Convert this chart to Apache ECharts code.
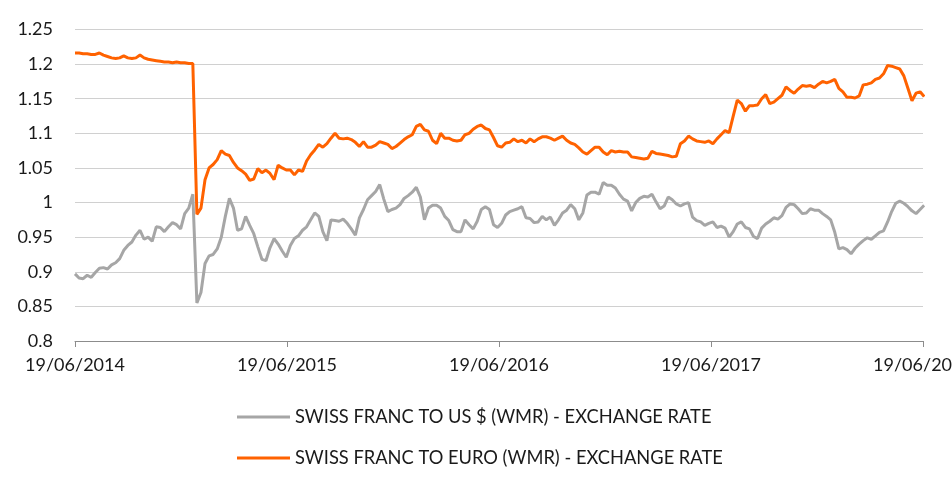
<!DOCTYPE html>
<html lang="en">
<head>
    <meta charset="utf-8"/>
    <title>Swiss franc exchange rates</title>
    <style>
        html, body { margin: 0; padding: 0; background: #fff; }
        #chartFx { width: 952px; height: 491px; }
    </style>
</head>
<body>
<div id="chartFx"></div>
<script type="text/javascript" src="https://cdn.jsdelivr.net/npm/echarts@6/dist/echarts.min.js"></script>
<script>
    // one sample per week, starting 19/06/2014 (day 0)
    var stepDays = 7;
    var xTickLabels = ['19/06/2014', '19/06/2015', '19/06/2016', '19/06/2017', '19/06/2018'];
    var seriesNames = ['SWISS FRANC TO US $ (WMR) - EXCHANGE RATE', 'SWISS FRANC TO EURO (WMR) - EXCHANGE RATE'];

    // CHF per US $ (grey)
    var usdRate = [
        0.897, 0.891, 0.890, 0.895, 0.892, 0.899, 0.905, 0.906, 0.904, 0.910,
        0.913, 0.919, 0.931, 0.938, 0.943, 0.953, 0.960, 0.947, 0.950, 0.944,
        0.965, 0.964, 0.958, 0.965, 0.971, 0.968, 0.962, 0.984, 0.992, 1.012,
        0.855, 0.870, 0.912, 0.923, 0.925, 0.933, 0.950, 0.980, 1.006, 0.992,
        0.960, 0.962, 0.980, 0.967, 0.955, 0.936, 0.918, 0.916, 0.935, 0.948,
        0.940, 0.930, 0.921, 0.938, 0.948, 0.952, 0.960, 0.965, 0.975, 0.985,
        0.980, 0.958, 0.945, 0.975, 0.974, 0.973, 0.976, 0.970, 0.962, 0.953,
        0.978, 0.990, 1.004, 1.010, 1.016, 1.026, 1.005, 0.987, 0.990, 0.992,
        0.997, 1.006, 1.010, 1.015, 1.022, 1.008, 0.975, 0.992, 0.996, 0.996,
        0.992, 0.980, 0.974, 0.961, 0.958, 0.958, 0.975, 0.968, 0.962, 0.973,
        0.990, 0.994, 0.990, 0.968, 0.964, 0.970, 0.982, 0.987, 0.989, 0.991,
        0.994, 0.978, 0.977, 0.971, 0.972, 0.980, 0.975, 0.979, 0.967, 0.975,
        0.985, 0.989, 0.997, 0.991, 0.975, 0.985, 1.011, 1.015, 1.015, 1.012,
        1.029, 1.025, 1.025, 1.021, 1.012, 1.005, 1.002, 0.988, 1.000, 1.006,
        1.009, 1.008, 1.012, 1.001, 0.991, 0.995, 1.008, 1.004, 0.998, 0.995,
        0.998, 1.000, 0.979, 0.974, 0.972, 0.967, 0.970, 0.972, 0.964, 0.966,
        0.963, 0.950, 0.958, 0.969, 0.972, 0.964, 0.962, 0.951, 0.948, 0.963,
        0.969, 0.973, 0.978, 0.976, 0.981, 0.993, 0.998, 0.997, 0.991, 0.984,
        0.985, 0.991, 0.989, 0.989, 0.984, 0.980, 0.975, 0.957, 0.933, 0.935,
        0.932, 0.926, 0.934, 0.940, 0.945, 0.949, 0.947, 0.952, 0.957, 0.959,
        0.972, 0.987, 0.999, 1.002, 0.999, 0.994, 0.988, 0.984, 0.990, 0.996
    ];

    // CHF per euro (orange)
    var eurRate = [
        1.216, 1.216, 1.215, 1.215, 1.214, 1.214, 1.216, 1.213, 1.211, 1.209,
        1.208, 1.209, 1.212, 1.209, 1.208, 1.209, 1.213, 1.209, 1.207, 1.206,
        1.205, 1.204, 1.203, 1.203, 1.202, 1.203, 1.202, 1.202, 1.201, 1.201,
        0.983, 0.992, 1.033, 1.050, 1.055, 1.062, 1.075, 1.070, 1.068, 1.058,
        1.050, 1.046, 1.041, 1.032, 1.034, 1.049, 1.043, 1.047, 1.042, 1.033,
        1.054, 1.050, 1.047, 1.047, 1.040, 1.047, 1.045, 1.060, 1.069, 1.076,
        1.084, 1.080, 1.085, 1.093, 1.100, 1.093, 1.092, 1.093, 1.091, 1.087,
        1.081, 1.088, 1.080, 1.080, 1.083, 1.088, 1.086, 1.084, 1.078, 1.081,
        1.086, 1.091, 1.095, 1.098, 1.110, 1.113, 1.105, 1.103, 1.090, 1.085,
        1.100, 1.093, 1.093, 1.090, 1.089, 1.090, 1.098, 1.100, 1.106, 1.110,
        1.112, 1.107, 1.105, 1.094, 1.082, 1.080, 1.086, 1.087, 1.092, 1.088,
        1.090, 1.086, 1.092, 1.088, 1.092, 1.095, 1.095, 1.093, 1.090, 1.093,
        1.096, 1.090, 1.086, 1.084, 1.079, 1.073, 1.070, 1.075, 1.080, 1.080,
        1.073, 1.069, 1.075, 1.073, 1.074, 1.073, 1.073, 1.066, 1.065, 1.064,
        1.063, 1.064, 1.074, 1.071, 1.070, 1.069, 1.068, 1.066, 1.067, 1.085,
        1.089, 1.096, 1.092, 1.089, 1.088, 1.087, 1.089, 1.085, 1.092, 1.098,
        1.104, 1.101, 1.125, 1.148, 1.143, 1.132, 1.140, 1.140, 1.141, 1.150,
        1.156, 1.143, 1.145, 1.150, 1.155, 1.167, 1.162, 1.158, 1.164, 1.169,
        1.168, 1.169, 1.166, 1.171, 1.175, 1.173, 1.175, 1.178, 1.165, 1.160,
        1.152, 1.152, 1.151, 1.154, 1.170, 1.171, 1.173, 1.178, 1.180, 1.186,
        1.198, 1.197, 1.195, 1.193, 1.183, 1.165, 1.147, 1.158, 1.160, 1.153
    ];

    var toPoints = function (values) {
        return values.map(function (v, i) { return [i * stepDays, v]; });
    };

    var textFont = 'Lato';
    var chartFx = echarts.init(document.getElementById('chartFx'));
    var option = {
        animation: false,
        backgroundColor: '#fff',
        grid: {
            left: 75,
            right: 29,
            top: 29.5,
            bottom: 150,
            containLabel: false,
            outerBoundsMode: 'none'
        },
        legend: {
            orient: 'vertical',
            left: 237,
            top: 408,
            padding: 0,
            icon: 'rect',
            itemWidth: 53,
            itemHeight: 3,
            itemGap: 23,
            textStyle: { fontFamily: textFont, fontSize: 18.3, color: '#1a1a1a', lineHeight: 18 },
            data: seriesNames
        },
        xAxis: {
            type: 'value',
            min: 0,
            max: 1461,
            interval: 365.25,
            axisLine: { lineStyle: { color: '#8c8c8c', width: 1 } },
            axisTick: { show: true, length: 6, lineStyle: { color: '#8c8c8c' } },
            splitLine: { show: false },
            axisLabel: {
                margin: 15,
                fontFamily: textFont,
                fontSize: 18,
                color: '#1a1a1a',
                hideOverlap: false,
                formatter: function (v) {
                    return xTickLabels[Math.round(v / 365.25)];
                }
            }
        },
        yAxis: {
            type: 'value',
            min: 0.8,
            max: 1.25,
            interval: 0.05,
            axisLine: { show: false },
            axisTick: { show: false },
            splitLine: { lineStyle: { color: '#d0d0d0', width: 1 } },
            axisLabel: {
                margin: 22,
                fontFamily: textFont,
                fontSize: 18,
                color: '#1a1a1a',
                formatter: function (v) {
                    return String(+v.toFixed(2));
                }
            }
        },
        series: [{
            name: seriesNames[0],
            type: 'line',
            showSymbol: false,
            symbol: 'none',
            data: toPoints(usdRate),
            lineStyle: { color: '#a6a6a6', width: 3 },
            itemStyle: { color: '#a6a6a6' }
        }, {
            name: seriesNames[1],
            type: 'line',
            showSymbol: false,
            symbol: 'none',
            data: toPoints(eurRate),
            lineStyle: { color: '#ff6200', width: 3 },
            itemStyle: { color: '#ff6200' }
        }]
    };
    chartFx.setOption(option);
</script>
</body>
</html>
